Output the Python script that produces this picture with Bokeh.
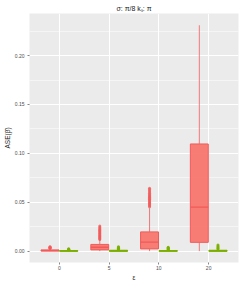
from bokeh.plotting import figure
from bokeh.models import ColumnDataSource, FactorRange, Range1d, SingleIntervalTicker, PrintfTickFormatter
from bokeh.transform import dodge
from bokeh.embed import file_html
from bokeh.resources import INLINE

# ---- data ----
cats = ["0", "5", "10", "20"]

red_low = [0.0, 0.0, 0.0, 0.0]
red_q1 = [0.0001, 0.0013, 0.0023, 0.0090]
red_med = [0.0006, 0.0040, 0.0092, 0.0450]
red_q3 = [0.0013, 0.0069, 0.0197, 0.1096]
red_high = [0.0025, 0.0115, 0.0440, 0.2310]

green_low = [0.0, 0.0, 0.0, 0.0]
green_q1 = [0.0, 0.0, 0.0, 0.0]
green_med = [0.0002, 0.0003, 0.0002, 0.0003]
green_q3 = [0.0005, 0.0007, 0.0006, 0.0008]
green_high = [0.0011, 0.0015, 0.0013, 0.0018]

red_outliers = {
    "0": [0.0028, 0.0031, 0.0034, 0.0038, 0.0042, 0.0046],
    "5": [0.0120, 0.0128, 0.0135, 0.0142, 0.0150, 0.0158, 0.0166, 0.0175, 0.0183,
          0.0191, 0.0200, 0.0208, 0.0216, 0.0225, 0.0234, 0.0245, 0.0258],
    "10": [0.0455, 0.0465, 0.0474, 0.0484, 0.0493, 0.0503, 0.0512, 0.0522, 0.0531,
           0.0541, 0.0550, 0.0560, 0.0570, 0.0580, 0.0592, 0.0605, 0.0618, 0.0630, 0.0642],
    "20": [],
}
green_outliers = {
    "0": [0.0014, 0.0017, 0.0020, 0.0024],
    "5": [0.0018, 0.0024, 0.0030, 0.0037, 0.0045],
    "10": [0.0016, 0.0021, 0.0027, 0.0033, 0.0040],
    "20": [0.0022, 0.0030, 0.0040, 0.0050, 0.0062],
}

title_text = "σ: π/8 kₛ: π"
x_label = "ε"
y_label = "ASE(β̂)"

RED = "#F8766D"
RED_LINE = "#F25A5A"
GREEN = "#7CAE00"
FONT = "Liberation Sans"

p = figure(width=241, height=283, output_backend="svg", toolbar_location=None,
           x_range=FactorRange(factors=cats, range_padding=0.05),
           y_range=Range1d(-0.0116, 0.243),
           min_border_left=0, min_border_right=3, min_border_top=0, min_border_bottom=0)

p.title.text = title_text
p.title.align = "center"
p.title.text_font = FONT
p.title.text_font_size = "7px"
p.title.text_font_style = "normal"
p.title.text_color = "#1A1A1A"
p.title.offset = 0
p.title.standoff = 4

p.background_fill_color = "#EBEBEB"
p.border_fill_color = "white"
p.outline_line_color = None

p.yaxis.ticker = SingleIntervalTicker(interval=0.05, num_minor_ticks=2)
p.yaxis.formatter = PrintfTickFormatter(format="%.2f")

for ax in (p.xaxis[0], p.yaxis[0]):
    ax.axis_line_color = None
    ax.major_tick_line_color = "#333333"
    ax.major_tick_line_width = 0.6
    ax.major_tick_in = 0
    ax.major_tick_out = 2
    ax.minor_tick_line_color = None
    ax.major_label_text_font = FONT
    ax.major_label_text_font_size = "5px"
    ax.major_label_text_color = "#4D4D4D"
    ax.major_label_standoff = 1
    ax.axis_label_text_font = FONT
    ax.axis_label_text_font_size = "6.5px"
    ax.axis_label_text_font_style = "normal"
    ax.axis_label_text_color = "#1A1A1A"
    ax.axis_label_standoff = 1

p.xaxis.axis_label = x_label
p.yaxis.axis_label = y_label

p.xgrid.grid_line_color = "white"
p.xgrid.grid_line_width = 1
p.ygrid.grid_line_color = "white"
p.ygrid.grid_line_width = 1
p.ygrid.minor_grid_line_color = "white"
p.ygrid.minor_grid_line_width = 0.5

OFF = 0.1875
HALF = 0.18

red_src = ColumnDataSource(dict(cat=cats, low=red_low, q1=red_q1, med=red_med, q3=red_q3, high=red_high))
green_src = ColumnDataSource(dict(cat=cats, low=green_low, q1=green_q1, med=green_med, q3=green_q3, high=green_high))


def draw(src, off, fill, line, lw, fill_alpha):
    x = dodge("cat", off, range=p.x_range)
    p.segment(x0=x, x1=x, y0="q3", y1="high", source=src, line_color=line, line_width=lw * 0.8)
    p.segment(x0=x, x1=x, y0="q1", y1="low", source=src, line_color=line, line_width=lw * 0.8)
    p.vbar(x=x, width=2 * HALF, top="q3", bottom="q1", source=src,
           fill_color=fill, fill_alpha=fill_alpha, line_color=line, line_width=lw)
    p.segment(x0=dodge("cat", off - HALF, range=p.x_range), x1=dodge("cat", off + HALF, range=p.x_range),
              y0="med", y1="med", source=src, line_color=line, line_width=lw * 1.3)


draw(red_src, -OFF, RED, RED_LINE, 1.0, 0.95)
draw(green_src, OFF, GREEN, GREEN, 1.2, 0.9)

ro_cat, ro_val = [], []
for c in cats:
    for v in red_outliers[c]:
        ro_cat.append(c)
        ro_val.append(v)
go_cat, go_val = [], []
for c in cats:
    for v in green_outliers[c]:
        go_cat.append(c)
        go_val.append(v)

p.scatter(x=dodge("cat", -OFF, range=p.x_range), y="v",
          source=ColumnDataSource(dict(cat=ro_cat, v=ro_val)),
          size=3, fill_color=RED_LINE, line_color=None, fill_alpha=0.8)
p.scatter(x=dodge("cat", OFF, range=p.x_range), y="v",
          source=ColumnDataSource(dict(cat=go_cat, v=go_val)),
          size=3, fill_color=GREEN, line_color=None, fill_alpha=0.9)

open("out.html", "w").write(file_html(p, INLINE))
